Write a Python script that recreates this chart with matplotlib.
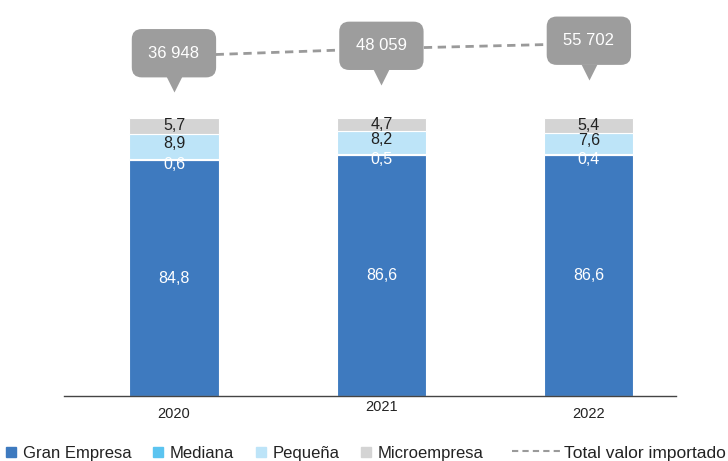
import matplotlib.pyplot as plt
import numpy as np
from matplotlib.lines import Line2D
from matplotlib.transforms import ScaledTranslation

plt.rcParams['font.family'] = ['Liberation Sans', 'DejaVu Sans']

years = ['2020', '2021', '2022']
gran = [84.8, 86.6, 86.6]
mediana = [0.6, 0.5, 0.4]
pequena = [8.9, 8.2, 7.6]
micro = [5.7, 4.7, 5.4]
total = [36948, 48059, 55702]
total_lbl = ['36 948', '48 059', '55 702']

colors = ['#3e7abf', '#5bc4f0', '#bde4f8', '#d4d4d4']
names = ['Gran Empresa', 'Mediana', 'Pequeña', 'Microempresa']
txt_col = ['white', 'white', '#222222', '#222222']
# small vertical nudges (pixels) so the thin-segment labels don't collide
nudge = [0, -5, 3, 0]

W, H = 728, 461
fig = plt.figure(figsize=(W / 100, H / 100), dpi=100)
ax = fig.add_axes([64 / W, (H - 396) / H, 612 / W, 396 / H])

x = np.arange(len(years))
bottom = np.zeros(len(years))
for vals, c, tc, dy in zip([gran, mediana, pequena, micro], colors, txt_col, nudge):
    vals = np.array(vals)
    ax.bar(x, vals, 0.43, bottom=bottom, color=c, edgecolor='white', linewidth=0.8, zorder=2)
    off = ax.transData + ScaledTranslation(0, dy / 100, fig.dpi_scale_trans)
    for xi, b, v in zip(x, bottom, vals):
        ax.text(xi, b + v / 2, f'{v:.1f}'.replace('.', ','), ha='center', va='center',
                color=tc, fontsize=11.5, zorder=3, transform=off)
    bottom += vals

ax.set_xlim(-0.53, 2.42)
ax.set_ylim(0, 100 * 396 / 278)
ax.set_yticks([])
ax.set_xticks(x)
ax.set_xticklabels(years, fontsize=10.5, color='#222222')
ax.tick_params(axis='x', length=0, pad=8)
for s in ['top', 'left', 'right']:
    ax.spines[s].set_visible(False)
ax.spines['bottom'].set_color('#444444')
ax.spines['bottom'].set_linewidth(1)
lab = ax.get_xticklabels()[1]
lab.set_transform(lab.get_transform() + ScaledTranslation(0, 0.07, fig.dpi_scale_trans))

# total imported value on its own scale
ax2 = ax.twinx()
ax2.set_ylim(-473154, 120966)
ax2.axis('off')
ax2.plot(x, total, color='#9a9a9a', lw=2, ls=(0, (3, 2)), zorder=1)
for xi, v, t in zip(x, total, total_lbl):
    ax2.annotate(t, xy=(xi, v), xytext=(0, 2), textcoords='offset points',
                 ha='center', va='center', color='white', fontsize=12, zorder=5,
                 bbox=dict(boxstyle='round,pad=1.0,rounding_size=0.6', fc='#9d9d9d', ec='none'))
    ax2.plot(xi, v, marker='v', ms=11, color='#9d9d9d', mec='none', zorder=4,
             transform=ax2.transData + ScaledTranslation(0, -0.28, fig.dpi_scale_trans))

handles = [Line2D([], [], marker='s', ls='none', color=c, ms=7) for c in colors]
fig.legend(handles, names, loc='center left', bbox_to_anchor=(6 / W, 1 - 453 / H),
           ncol=4, frameon=False, fontsize=12, handlelength=0.6, handletextpad=0.4,
           columnspacing=1.3, borderaxespad=0, borderpad=0, labelcolor='#222222')
fig.legend([Line2D([], [], color='#9a9a9a', lw=1.5, ls=(0, (3, 2)))], ['Total valor importado'],
           loc='center right', bbox_to_anchor=(726 / W, 1 - 453 / H), frameon=False,
           fontsize=12.5, handlelength=2.8, handletextpad=0.2, borderaxespad=0, borderpad=0,
           labelcolor='#222222')

fig.savefig('out.png', dpi=100)
